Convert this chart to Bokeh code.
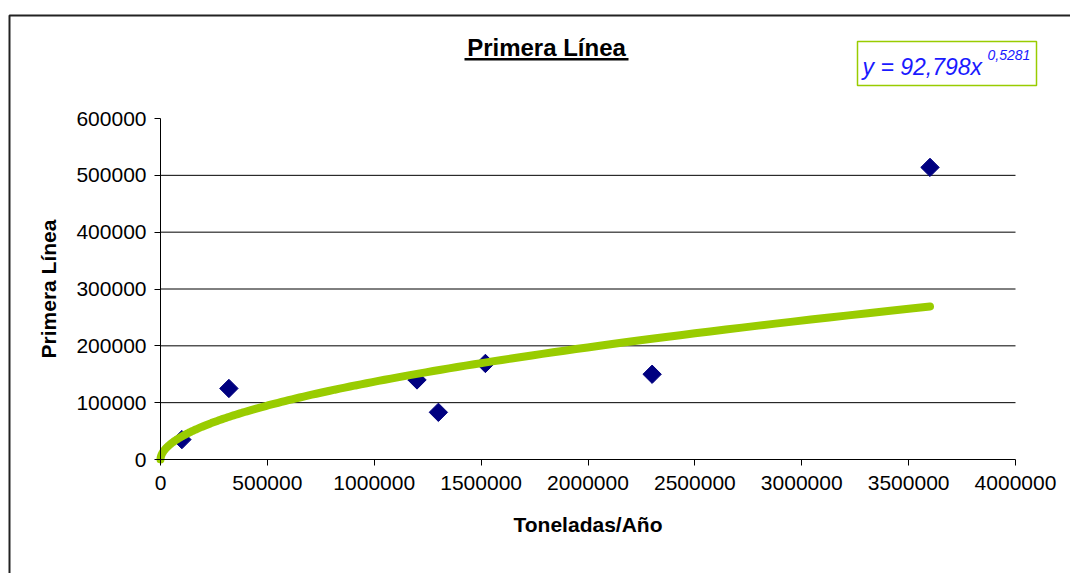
import numpy as np
from bokeh.plotting import figure
from bokeh.models import (Label, BoxAnnotation, FixedTicker, ColumnDataSource, Range1d)
from bokeh.embed import file_html
from bokeh.resources import INLINE

# Annual tonnage vs. first-line cost
toneladas = [100000, 320000, 1200000, 1300000, 1520000, 2300000, 3600000]
primera_linea = [35000, 125000, 140000, 83000, 169000, 150000, 514000]

# Power trend fitted to the points: y = a * x^b
coef_a = 92.798
coef_b = 0.5281

x_ticks = [0, 500000, 1000000, 1500000, 2000000, 2500000, 3000000, 3500000, 4000000]
y_ticks = [0, 100000, 200000, 300000, 400000, 500000, 600000]

FONT = "Liberation Sans"
W, H = 1070, 573

# plot area (in page pixels) that holds the axes
AX_L, AX_R, AX_T, AX_B = 160, 1015, 118, 459
x0, x1 = x_ticks[0], x_ticks[-1]
y0, y1 = y_ticks[0], y_ticks[-1]
kx = (x1 - x0) / (AX_R - AX_L)
ky = (y1 - y0) / (AX_B - AX_T)

p = figure(width=W, height=H, title=None,
           min_border=0, min_border_left=0, min_border_right=0,
           min_border_top=0, min_border_bottom=0,
           x_range=Range1d(x0 - AX_L * kx, x1 + (W - AX_R) * kx),
           y_range=Range1d(y0 - (H - AX_B) * ky, y1 + AX_T * ky),
           output_backend="svg", toolbar_location=None,
           background_fill_color="white", border_fill_color="white")
p.outline_line_color = None

# axes, pinned at the origin
for ax, bnd in ((p.xaxis[0], (x0, x1)), (p.yaxis[0], (y0, y1))):
    ax.fixed_location = 0
    ax.bounds = bnd
    ax.axis_line_color = "black"
    ax.axis_line_width = 1
    ax.major_tick_line_color = "black"
    ax.major_tick_in = 0
    ax.major_tick_out = 6
    ax.minor_tick_line_color = None
    ax.major_label_text_font = FONT
    ax.major_label_text_font_size = "21px"
    ax.major_label_text_color = "black"
    ax.axis_label_text_font = FONT
    ax.axis_label_text_font_style = "bold"
    ax.axis_label_text_font_size = "21px"
    ax.axis_label_text_color = "black"

p.xaxis.ticker = FixedTicker(ticks=x_ticks)
p.yaxis.ticker = FixedTicker(ticks=y_ticks)
p.xaxis.major_label_overrides = {t: str(t) for t in x_ticks}
p.yaxis.major_label_overrides = {t: str(t) for t in y_ticks}
p.xaxis.axis_label = "Toneladas/Año"
p.yaxis.axis_label = "Primera Línea"
p.xaxis.major_label_standoff = 10
p.yaxis.major_label_standoff = 8
p.xaxis.axis_label_standoff = 20
p.yaxis.axis_label_standoff = 13

# horizontal grid lines, limited to the axis extent
p.grid.visible = False
grid_y = y_ticks[1:-1]
p.segment(x0=[x0] * len(grid_y), y0=grid_y, x1=[x1] * len(grid_y), y1=grid_y,
          line_color="black", line_width=1)

# data points as diamonds
src = ColumnDataSource(dict(x=toneladas, y=primera_linea))
p.scatter("x", "y", source=src, marker="square", angle=np.pi / 4,
          size=13, fill_color="#000080", line_color="#000080")

# trend curve, drawn over the points
xs = np.concatenate([[0.0], np.geomspace(50, max(toneladas), 400)])
ys = coef_a * xs ** coef_b
p.line(xs, ys, line_color="#99CC00", line_width=8, line_cap="round")

# outer chart frame (screen units: from the left edge, upward from the bottom)
p.add_layout(BoxAnnotation(left=9, right=W + 40, top=H - 15, bottom=-40,
                           left_units="screen", right_units="screen",
                           top_units="screen", bottom_units="screen",
                           fill_alpha=0, line_alpha=1,
                           line_color="#222222", line_width=2))

# title with underline
p.add_layout(Label(x=546, y=H - 47, x_units="screen", y_units="screen",
                   text="Primera Línea", text_font=FONT, text_font_style="bold",
                   text_font_size="24px", text_align="center",
                   text_baseline="alphabetic", text_color="black"))
p.add_layout(BoxAnnotation(left=464, right=628, top=H - 57.5, bottom=H - 60,
                           left_units="screen", right_units="screen",
                           top_units="screen", bottom_units="screen",
                           fill_color="black", fill_alpha=1, line_alpha=0))

# trend equation box
p.add_layout(BoxAnnotation(left=857, right=1036, top=H - 41, bottom=H - 85,
                           left_units="screen", right_units="screen",
                           top_units="screen", bottom_units="screen",
                           fill_color="white", fill_alpha=1, line_alpha=1,
                           line_color="#99CC00", line_width=1.5))
eq_main = "y = " + f"{coef_a:.3f}".replace(".", ",") + "x"
eq_exp = f"{coef_b:.4f}".replace(".", ",")
p.add_layout(Label(x=862, y=H - 66, x_units="screen", y_units="screen",
                   text=eq_main, text_font=FONT, text_font_style="italic",
                   text_font_size="23px", text_align="left",
                   text_baseline="alphabetic", text_color="#1A1AFF"))
p.add_layout(Label(x=987, y=H - 54, x_units="screen", y_units="screen",
                   text=eq_exp, text_font=FONT, text_font_style="italic",
                   text_font_size="14px", text_align="left",
                   text_baseline="alphabetic", text_color="#1A1AFF"))

open("out.html", "w").write(file_html(p, INLINE))
